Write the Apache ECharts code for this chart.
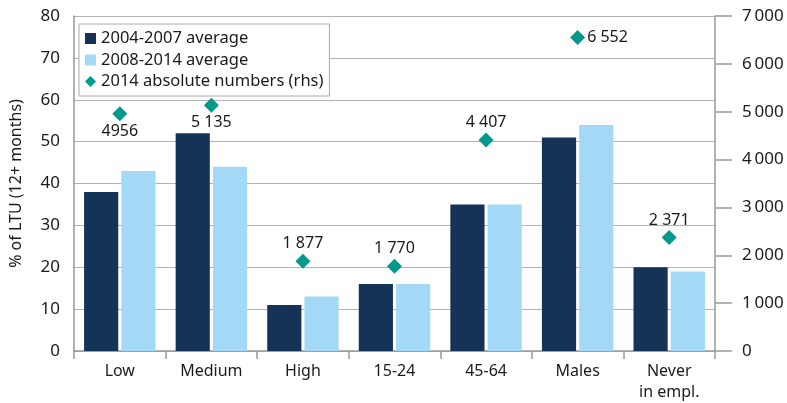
<!DOCTYPE html>
<html><head><meta charset="utf-8">
<script src="https://cdn.jsdelivr.net/npm/echarts@6/dist/echarts.min.js"></script>
<style>html,body{margin:0;padding:0;background:#fff}#c{width:787px;height:403px}</style>
</head><body><div id="c"></div>
<script>
const categories = ["Low", "Medium", "High", "15-24", "45-64", "Males", "Never\nin empl."];
const avg2004_2007 = [38, 52, 11, 16, 35, 51, 20];
const avg2008_2014 = [43, 44, 13, 16, 35, 54, 19];
const abs2014 = [4956, 5135, 1877, 1770, 4407, 6552, 2371];
const abs2014Labels = ["4956", "5 135", "1 877", "1 770", "4 407", "6 552", "2 371"];
const leftTicks = [0, 80, 10];
const rightTicks = [0, 7000, 1000];

const labelPos = ["bottom", "bottom", "top", "top", "top", "right", "top"];
const FONT = "Noto Sans";
const chart = echarts.init(document.getElementById('c'));
chart.setOption({
  animation: false,
  textStyle: {fontFamily: FONT},
  grid: {left: 72, right: 72, top: 16, bottom: 51},
  legend: {
    left: 79, top: 24, orient: 'vertical',
    backgroundColor: '#fff', borderColor: '#aaa', borderWidth: 1,
    padding: [6, 6, 6, 6], itemGap: 4.5, itemWidth: 11, itemHeight: 11,
    textStyle: {fontFamily: FONT, fontSize: 16.5, color: '#1a1a1a'},
    data: [
      {name: '2004-2007 average', icon: 'rect'},
      {name: '2008-2014 average', icon: 'rect'},
      {name: '2014 absolute numbers (rhs)', icon: 'diamond'}
    ]
  },
  xAxis: {
    type: 'category', data: categories,
    axisLine: {lineStyle: {color: '#999', width: 1.5}},
    axisTick: {show: true, length: 8, lineStyle: {color: '#999', width: 1.5}},
    axisLabel: {color: '#1a1a1a', fontSize: 16, fontFamily: FONT, margin: 10, lineHeight: 21}
  },
  yAxis: [
    {
      type: 'value', min: leftTicks[0], max: leftTicks[1], interval: leftTicks[2],
      name: '% of LTU (12+ months)', nameLocation: 'middle', nameGap: 50,
      nameTextStyle: {color: '#1a1a1a', fontSize: 16, fontFamily: FONT},
      axisLine: {show: true, lineStyle: {color: '#999', width: 1.5}},
      axisTick: {show: false},
      axisLabel: {color: '#1a1a1a', fontSize: 17, fontFamily: FONT, margin: 14},
      splitLine: {lineStyle: {color: '#b3b3b3', width: 1.2}}
    },
    {
      type: 'value', min: rightTicks[0], max: rightTicks[1], interval: rightTicks[2],
      position: 'right',
      axisLine: {show: true, lineStyle: {color: '#999', width: 1.5}},
      axisTick: {show: true, length: 17, lineStyle: {color: '#999', width: 1.5}},
      axisLabel: {color: '#1a1a1a', fontSize: 17, fontFamily: FONT, margin: 27,
        formatter: v => v >= 1000 ? String(v).replace(/\B(?=(\d{3})+$)/g, '\u2009') : String(v)},
      splitLine: {show: false}
    }
  ],
  series: [
    {name: '2004-2007 average', type: 'bar', data: avg2004_2007,
     itemStyle: {color: '#153357'}, barGap: '9%', barCategoryGap: '22%'},
    {name: '2008-2014 average', type: 'bar', data: avg2008_2014,
     itemStyle: {color: '#a3d9f6'}},
    {name: '2014 absolute numbers (rhs)', type: 'scatter', yAxisIndex: 1,
     symbol: 'diamond', symbolSize: 15, itemStyle: {color: '#009a8c', opacity: 1},
     data: abs2014.map((v, i) => ({value: v, label: {show: true, position: labelPos[i],
       formatter: abs2014Labels[i], color: '#1a1a1a', fontSize: 16, fontFamily: FONT, distance: 2}}))}
  ]
});
</script></body></html>
